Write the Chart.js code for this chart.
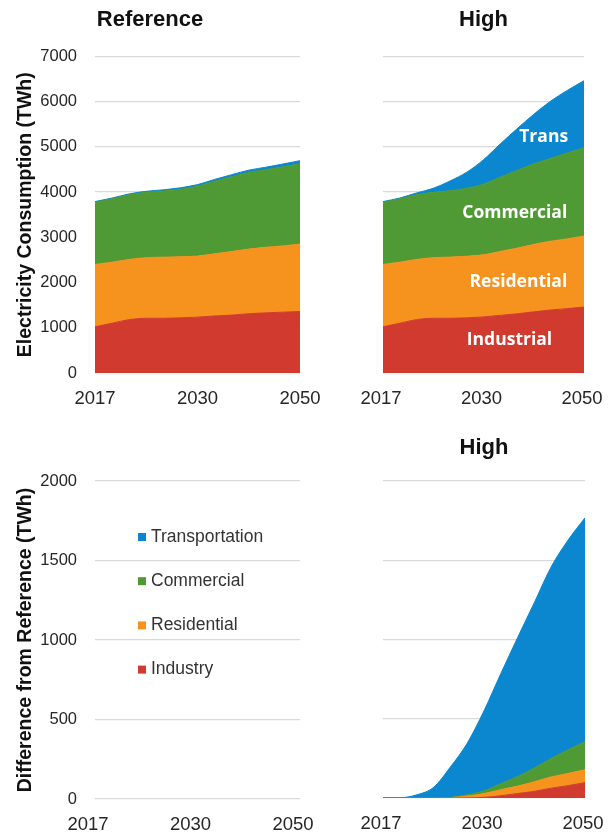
<!DOCTYPE html>
<html>
<head>
<meta charset="utf-8">
<script src="https://cdn.jsdelivr.net/npm/chart.js@4.4.1/dist/chart.umd.min.js"></script>
<style>
  html, body { margin: 0; padding: 0; background: #ffffff; }
  #wrap { position: relative; width: 608px; height: 834px; overflow: hidden; }
  canvas { position: absolute; }
</style>
</head>
<body>
<div id="wrap">
  <canvas id="refTotal"  width="330" height="420" style="left:0;top:0"></canvas>
  <canvas id="highTotal" width="278" height="420" style="left:330px;top:0"></canvas>
  <canvas id="refDiff"   width="330" height="414" style="left:0;top:420px"></canvas>
  <canvas id="highDiff"  width="278" height="414" style="left:330px;top:420px"></canvas>
</div>
<script>
// Sample years along the horizontal axis; only three of them get a label.
const years = ['2017', '2019', '2021', '2024', '2026', '2028', '2030', '2033', '2037', '2040', '2043', '2047', '2050'];
const shownYears = ['2017', '2030', '2050'];

// Sector names (bottom of the stack first) and their colours.
const sectorNames  = ['Industry', 'Residential', 'Commercial', 'Transportation'];
const sectorColors = ['#d13a2f', '#f6921e', '#4f9a34', '#0b87cf'];
const sectorTags   = ['Industrial', 'Residential', 'Commercial', 'Trans'];

// Reference scenario, electricity consumption by sector (TWh).
const refIndustry       = [1020, 1100, 1180, 1210, 1210, 1220, 1235, 1260, 1280, 1310, 1330, 1345, 1360];
const refResidential    = [1380, 1350, 1330, 1340, 1350, 1350, 1350, 1375, 1405, 1430, 1450, 1465, 1490];
const refCommercial     = [1375, 1400, 1430, 1445, 1465, 1495, 1545, 1605, 1655, 1695, 1715, 1750, 1775];
const refTransportation = [15, 18, 20, 22, 25, 30, 35, 40, 45, 50, 55, 60, 70];

// High electrification scenario, consumption by sector (TWh).
const highIndustry       = [1020, 1100, 1180, 1210, 1210, 1220, 1239, 1274, 1308, 1352, 1392, 1423, 1457];
const highResidential    = [1380, 1350, 1330, 1340, 1352, 1362, 1374, 1413, 1452, 1491, 1521, 1542, 1571];
const highCommercial     = [1375, 1400, 1430, 1445, 1467, 1503, 1562, 1643, 1715, 1782, 1832, 1900, 1952];
const highTransportation = [15, 19, 40, 89, 216, 355, 540, 735, 923, 1095, 1265, 1383, 1483];

// High minus Reference, by sector (TWh).
const diffIndustry       = [0, 0, 0, 0, 0, 0, 4, 14, 28, 42, 62, 78, 97];
const diffResidential    = [0, 0, 0, 0, 2, 12, 24, 38, 47, 61, 71, 77, 81];
const diffCommercial     = [0, 0, 0, 0, 2, 8, 17, 38, 60, 87, 117, 150, 177];
const diffTransportation = [0, 1, 20, 67, 191, 325, 505, 695, 878, 1045, 1210, 1323, 1413];

// Value-axis ticks.
const consumptionTicks = [0, 1000, 2000, 3000, 4000, 5000, 6000, 7000];
const differenceTicks  = [0, 500, 1000, 1500, 2000];

const FONT = '"Liberation Sans", Arial, sans-serif';
const TEXT = '#262626';
const GRID = '#d9d9d9';

Chart.defaults.font.family = FONT;

function stackedAreas(seriesList) {
  return seriesList.map((values, i) => ({
    label: sectorNames[i],
    data: values,
    backgroundColor: sectorColors[i],
    borderColor: sectorColors[i],
    borderWidth: 1,
    fill: i === 0 ? 'origin' : '-1',
    pointRadius: 0,
    pointHoverRadius: 0,
    cubicInterpolationMode: 'monotone'
  }));
}

function yearAxis(axisHeight, labelOffset) {
  return {
    type: 'category',
    offset: false,
    // invisible tick marks give the labels their distance from the plot
    grid: { display: true, drawOnChartArea: false, drawTicks: true, tickLength: 15, color: 'rgba(0,0,0,0)' },
    border: { display: false },
    ticks: {
      autoSkip: false,
      maxRotation: 0,
      minRotation: 0,
      padding: 0,
      labelOffset: labelOffset,
      color: TEXT,
      font: { family: FONT, size: 18.5 },
      callback: (v, i) => (shownYears.includes(years[i]) ? years[i] : '')
    },
    afterFit: (s) => { s.height = axisHeight; }
  };
}

function valueAxis(ticks, axisWidth, titleText) {
  return {
    type: 'linear',
    stacked: true,
    min: ticks[0],
    max: ticks[ticks.length - 1],
    grid: { color: GRID, lineWidth: 1.3, drawTicks: false },
    border: { display: false },
    afterBuildTicks: (s) => { s.ticks = ticks.map((v) => ({ value: v })); },
    ticks: {
      display: !!titleText,
      padding: 18,
      color: TEXT,
      font: { family: FONT, size: 16.5 },
      callback: (v) => String(v)
    },
    title: titleText ? {
      display: true,
      text: titleText,
      color: '#111111',
      font: { family: FONT, size: 19.5, weight: 'bold' },
      padding: { top: 14, bottom: 0 }
    } : { display: false },
    afterFit: (s) => { s.width = axisWidth; }
  };
}

function panelTitle(text, fullSize, top, bottom) {
  return {
    display: !!text,
    text: text,
    fullSize: fullSize,
    color: '#111111',
    font: { family: FONT, size: 22, weight: 'bold' },
    padding: { top: top, bottom: bottom }
  };
}

// Sector names written inside their bands, placed in data coordinates.
const bandLabels = {
  id: 'bandLabels',
  afterDatasetsDraw(chart, args, opts) {
    if (!opts.items) return;
    const { ctx, scales } = chart;
    ctx.save();
    ctx.fillStyle = opts.color;
    ctx.font = opts.font;
    ctx.textBaseline = 'middle';
    ctx.textAlign = 'right';
    opts.items.forEach((it) => {
      ctx.fillText(it.text, scales.x.getPixelForValue(it.x), scales.y.getPixelForValue(it.y));
    });
    ctx.restore();
  }
};

// Vertical list of sector swatches, top of the stack first.
const sectorKey = {
  id: 'sectorKey',
  afterDraw(chart, args, opts) {
    if (!opts.show) return;
    const { ctx } = chart;
    const sets = chart.data.datasets.slice().reverse();
    ctx.save();
    ctx.font = opts.font;
    ctx.textBaseline = 'middle';
    ctx.textAlign = 'left';
    sets.forEach((ds, k) => {
      const cy = opts.y + k * opts.gap;
      ctx.fillStyle = ds.backgroundColor;
      ctx.fillRect(opts.x, cy - opts.box / 2, opts.box, opts.box);
      ctx.fillStyle = opts.color;
      ctx.fillText(ds.label, opts.x + opts.box + 5, cy);
    });
    ctx.restore();
  }
};

function makeChart(id, cfg) {
  return new Chart(document.getElementById(id), {
    type: 'line',
    data: { labels: years, datasets: cfg.datasets },
    options: {
      responsive: false,
      animation: false,
      events: [],
      layout: { padding: cfg.padding },
      plugins: {
        legend: { display: false },
        tooltip: { enabled: false },
        title: cfg.title,
        bandLabels: cfg.bandLabels || {},
        sectorKey: cfg.sectorKey || {}
      },
      scales: { x: cfg.x, y: cfg.y }
    },
    plugins: [bandLabels, sectorKey]
  });
}

// Reference: total consumption.
makeChart('refTotal', {
  datasets: stackedAreas([refIndustry, refResidential, refCommercial, refTransportation]),
  padding: { left: 0, right: 30, top: 0, bottom: 0 },
  title: panelTitle('Reference', true, 7, 23),
  x: yearAxis(47, 0),
  y: valueAxis(consumptionTicks, 95, 'Electricity Consumption (TWh)')
});

// High: total consumption with sector names in the bands.
makeChart('highTotal', {
  datasets: stackedAreas([highIndustry, highResidential, highCommercial, highTransportation]),
  padding: { left: 0, right: 24, top: 0, bottom: 0 },
  title: panelTitle('High', false, 7, 23),
  x: yearAxis(47, -2),
  y: valueAxis(consumptionTicks, 53, null),
  bandLabels: {
    color: '#ffffff',
    font: 'bold 17.5px "Open Sans", "Noto Sans", sans-serif',
    items: [
      { text: sectorTags[3], x: 11.05, y: 5210 },
      { text: sectorTags[2], x: 11.0, y: 3530 },
      { text: sectorTags[1], x: 11.0, y: 2010 },
      { text: sectorTags[0], x: 10.1, y: 730 }
    ]
  }
});

// Reference: difference panel (empty) carrying the sector key.
makeChart('refDiff', {
  datasets: stackedAreas([[], [], [], []]),
  padding: { left: 0, right: 30, top: 61, bottom: 0 },
  title: panelTitle('', true, 0, 0),
  x: yearAxis(35, -7),
  y: valueAxis(differenceTicks, 95, 'Difference from Reference (TWh)'),
  sectorKey: {
    show: true,
    x: 138, y: 117, gap: 44.2, box: 8,
    color: '#333333',
    font: '17.5px ' + FONT
  }
});

// High: difference from Reference.
makeChart('highDiff', {
  datasets: stackedAreas([diffIndustry, diffResidential, diffCommercial, diffTransportation]),
  padding: { left: 0, right: 23, top: 0, bottom: 0 },
  title: panelTitle('High', false, 15, 19.6),
  x: yearAxis(36, -2),
  y: valueAxis(differenceTicks, 53, null)
});
</script>
</body>
</html>
